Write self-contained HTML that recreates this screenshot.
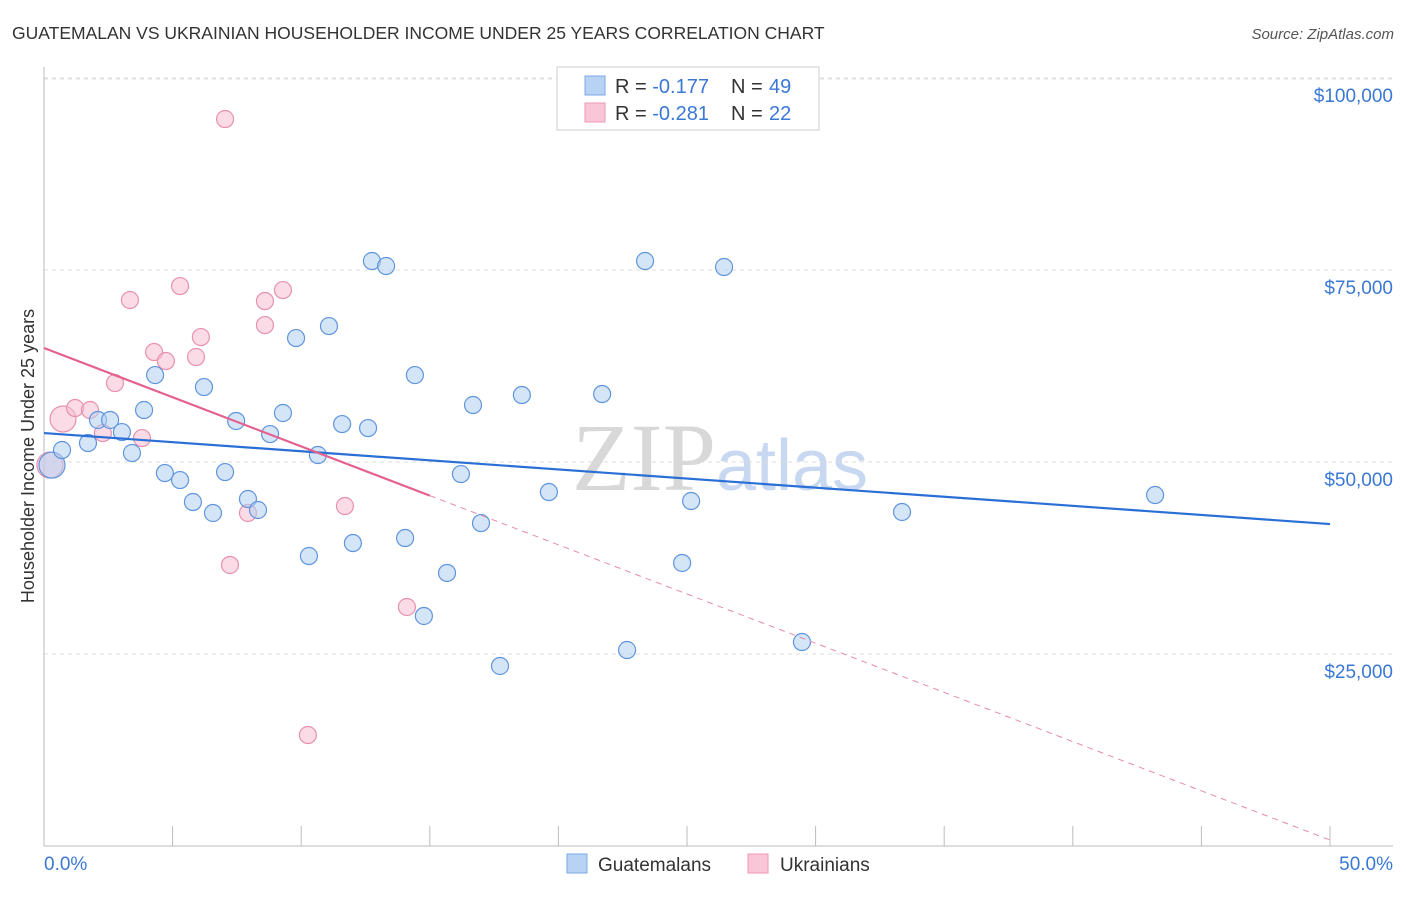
<!DOCTYPE html>
<html><head><meta charset="utf-8"><style>
body{margin:0;background:#fff;width:1406px;height:892px;overflow:hidden;font-family:"Liberation Sans",sans-serif}
</style></head><body>
<svg id="chart" width="1406" height="892" xmlns="http://www.w3.org/2000/svg">
<text x="12" y="39" font-size="17.5" fill="#333">GUATEMALAN VS UKRAINIAN HOUSEHOLDER INCOME UNDER 25 YEARS CORRELATION CHART</text>
<text x="1394" y="39" font-size="15" fill="#555" font-style="italic" text-anchor="end">Source: ZipAtlas.com</text>
<text x="720" y="490" font-size="96" fill="#d8d8d8" text-anchor="middle" font-family="Liberation Serif,serif">ZIP<tspan fill="#c8d8f0" font-family="Liberation Sans,sans-serif" font-size="72">atlas</tspan></text>
<text transform="translate(34,456) rotate(-90)" font-size="18" fill="#333" text-anchor="middle">Householder Income Under 25 years</text>
<g id="grid"></g><g id="ticks"></g><g id="marks"></g>
<g>
<rect x="557" y="67" width="262" height="63" fill="#fff" stroke="#ccc"/>
<rect x="585" y="76" width="20" height="19" fill="#b8d2f4" stroke="#7aa8e6"/>
<text x="615" y="93" font-size="20" fill="#333">R = <tspan fill="#3a78d6">-0.177</tspan></text>
<text x="731" y="93" font-size="20" fill="#333">N = <tspan x="769" fill="#3a78d6">49</tspan></text>
<rect x="585" y="103" width="20" height="19" fill="#f8c6d6" stroke="#ec98b4"/>
<text x="615" y="120" font-size="20" fill="#333">R = <tspan fill="#3a78d6">-0.281</tspan></text>
<text x="731" y="120" font-size="20" fill="#333">N = <tspan x="769" fill="#3a78d6">22</tspan></text>
</g>
<g>
<rect x="567" y="854" width="20" height="19" fill="#b8d2f4" stroke="#7aa8e6"/>
<text x="598" y="871" font-size="19" fill="#333">Guatemalans</text>
<rect x="748" y="854" width="20" height="19" fill="#f8c6d6" stroke="#ec98b4"/>
<text x="780" y="871" font-size="19" fill="#333">Ukrainians</text>
</g>
</svg>
<script>
const blueX=[0.31,0.70,1.71,2.10,2.57,3.03,3.42,3.89,4.32,4.70,5.29,5.79,6.22,6.57,7.04,7.47,7.93,8.32,8.79,9.29,9.80,10.30,10.65,11.08,11.59,12.01,12.60,12.75,13.30,14.04,14.42,14.77,15.67,16.21,16.68,16.99,17.73,18.58,19.63,21.70,22.67,23.37,24.81,25.16,26.44,29.47,33.36,43.20];
const blueY=[49600,51560,52470,55470,55470,53900,51170,56770,61320,48560,47650,44790,59760,43360,48690,55340,45180,43750,53640,56380,66140,37760,50910,67700,54940,39450,54420,76170,75520,40100,61320,29950,35550,48430,57420,42050,23440,58720,46090,58850,25520,76170,36850,44920,75390,26560,43490,45700];
const pinkX=[0.23,0.74,1.21,1.79,2.29,2.76,3.34,3.81,4.28,4.74,5.29,5.91,6.10,7.04,7.23,7.93,8.59,8.59,9.29,10.26,11.70,14.11];
const pinkY=[49600,55600,57030,56770,53770,60280,71090,53120,64320,63150,72910,63670,66270,94660,36590,43360,70960,67830,72390,14450,44270,31120];
const yTicks=[25000,50000,75000,100000];
const yLabels=["$25,000","$50,000","$75,000","$100,000"];
const xTicks=[0,5,10,15,20,25,30,35,40,45,50];
const blueTrend=[53770,41920];
const pinkTrend=[64840,780];
const pinkSolidEnd=15;
const NS="http://www.w3.org/2000/svg";
const sx=v=>44+v/50*1286, sy=v=>846-v/25000*192;
function mk(t,a,p){const e=document.createElementNS(NS,t);for(const k in a)e.setAttribute(k,a[k]);p.appendChild(e);return e;}
const grid=document.getElementById('grid'),ticks=document.getElementById('ticks'),marks=document.getElementById('marks');
yTicks.forEach((v,i)=>{
 const l=mk('line',{x1:44,x2:1393,y1:sy(v),y2:sy(v),stroke:'#ddd','stroke-dasharray':'4,4'},grid);
 
 
 const t=mk('text',{x:1393,y:sy(v)+24,'font-size':19,fill:'#3a78d6','text-anchor':'end'},ticks);
 t.textContent=yLabels[i];
 
 
});
mk('line',{x1:44,x2:1393,y1:79,y2:79,stroke:'#ddd','stroke-dasharray':'4,4'},grid);
mk('line',{x1:44,x2:44,y1:67,y2:846,stroke:'#bbb'},grid);
mk('line',{x1:44,x2:1393,y1:846,y2:846,stroke:'#bbb'},grid);
xTicks.forEach(v=>{
 const l=mk('line',{x1:sx(v),x2:sx(v),y1:826,y2:846,stroke:'#bbb'},ticks);
 
 
});
let t0=mk('text',{x:44,y:870,'font-size':19,fill:'#3a78d6'},ticks);t0.textContent='0.0%';


let t1=mk('text',{x:1393,y:870,'font-size':19,fill:'#3a78d6','text-anchor':'end'},ticks);t1.textContent='50.0%';


function dots(X,Y,fill,stroke,name){X.forEach((x,i)=>{
 const r=(i===0||(name==='pink-point'&&i===1))?13:8.5;
 const c=mk('circle',{cx:sx(x),cy:sy(Y[i]),r:r,fill:fill,'fill-opacity':0.55,stroke:stroke,'stroke-width':1.2},marks);
 
 
});}
dots(pinkX,pinkY,'#f8c0d2','#e890ae','pink-point');
dots(blueX,blueY,'#b3cff3','#5f95de','blue-point');
const bl=mk('line',{x1:sx(0),y1:sy(blueTrend[0]),x2:sx(50),y2:sy(blueTrend[1]),stroke:'#2a6fd6','stroke-width':2.2},marks);


const pm=pinkTrend[0]+(pinkTrend[1]-pinkTrend[0])*pinkSolidEnd/50;
const pl=mk('line',{x1:sx(0),y1:sy(pinkTrend[0]),x2:sx(pinkSolidEnd),y2:sy(pm),stroke:'#e4608e','stroke-width':2.2},marks);


const pd=mk('line',{x1:sx(pinkSolidEnd),y1:sy(pm),x2:sx(50),y2:sy(pinkTrend[1]),stroke:'#e88aa8','stroke-width':1,'stroke-dasharray':'6,5'},marks);


</script>
</body></html>
